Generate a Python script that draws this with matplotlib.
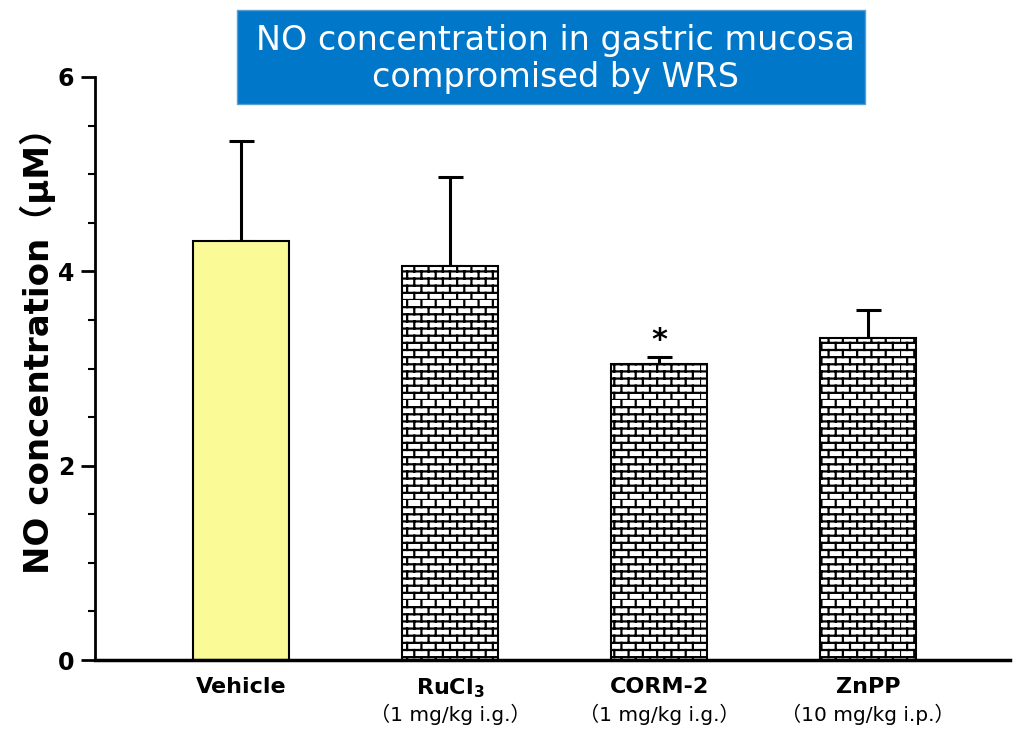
import numpy as np
import matplotlib
matplotlib.use("Agg")
import matplotlib.pyplot as plt
import matplotlib.hatch as mhatch
from matplotlib.patches import Rectangle
from matplotlib.ticker import MultipleLocator

# data
groups = ["Vehicle", r"RuCl$_\mathbf{3}$", "CORM-2", "ZnPP"]
doses = ["", "（1 mg/kg i.g.）", "（1 mg/kg i.g.）", "（10 mg/kg i.p.）"]
means = [4.31, 4.06, 3.05, 3.31]
sem_up = [1.03, 0.91, 0.07, 0.29]
signif = ["", "", "*", ""]
title = "NO concentration in gastric mucosa\ncompromised by WRS"
ylabel = "NO concentration（μM）"

plt.rcParams["font.family"] = ["DejaVu Sans", "Noto Sans CJK SC"]
plt.rcParams["mathtext.fontset"] = "custom"
plt.rcParams["mathtext.rm"] = "DejaVu Sans"
plt.rcParams["mathtext.bf"] = "DejaVu Sans:bold"
plt.rcParams["hatch.linewidth"] = 1.6


# brick wall hatch, 'b' in the hatch string
class BrickHatch(mhatch.HatchPatternBase):
    def __init__(self, hatch, density):
        n = hatch.count("b")
        self.rows = 14 * n
        self.cols = 7 * n
        self.num_vertices = 2 * self.rows + 2 * self.rows * self.cols

    def set_vertices_and_codes(self, vertices, codes):
        k = 0
        for i in range(self.rows):
            y0 = i / self.rows
            y1 = (i + 1) / self.rows
            vertices[k] = (0.0, y0)
            vertices[k + 1] = (1.0, y0)
            k += 2
            off = 0.5 * (i % 2)
            for j in range(self.cols):
                xv = (j + off) / self.cols
                vertices[k] = (xv, y0)
                vertices[k + 1] = (xv, y1)
                k += 2
        codes[0::2] = 1  # MOVETO
        codes[1::2] = 2  # LINETO


mhatch._hatch_types.append(BrickHatch)
mhatch._validate_hatch_pattern = lambda h: None

fig = plt.figure(figsize=(10.24, 7.39), dpi=100)
ax = fig.add_axes([95 / 1024, 1 - 660 / 739, 915 / 1024, 583 / 739])

x = np.arange(len(groups))
for i in x:
    if i == 0:
        ax.bar(x[i], means[i], width=0.46, color="#FAFA96", edgecolor="black",
               linewidth=1.5, zorder=2)
    else:
        ax.bar(x[i], means[i], width=0.46, color="white", edgecolor="black",
               linewidth=1.5, hatch="b", zorder=2)

ax.errorbar(x, means, yerr=[np.zeros(len(x)), sem_up], fmt="none",
            ecolor="black", elinewidth=2.2, capsize=9, capthick=2.2, zorder=1)

for i in x:
    if signif[i]:
        ax.text(x[i], means[i] + sem_up[i] + 0.02, signif[i], ha="center",
                va="bottom", fontsize=22, fontweight="bold")

ax.set_xlim(-0.70, 3.68)
ax.set_ylim(0, 6)
ax.set_xticks(x, labels=groups, fontsize=16, fontweight="bold")
ax.set_yticks([0, 2, 4, 6])
ax.yaxis.set_minor_locator(MultipleLocator(0.5))
ax.tick_params(axis="x", length=0, pad=12)
ax.tick_params(axis="y", which="major", length=10, width=2, labelsize=17, pad=5)
ax.tick_params(axis="y", which="minor", length=5, width=1.5)
for lab in ax.get_yticklabels():
    lab.set_fontweight("bold")

for i in x:
    if doses[i]:
        ax.annotate(doses[i], xy=(x[i], 0), xycoords=("data", "axes fraction"),
                    xytext=(0, -39), textcoords="offset points", ha="center",
                    va="center", fontsize=14.5)

ax.spines["top"].set_visible(False)
ax.spines["right"].set_visible(False)
ax.spines["left"].set_linewidth(2)
ax.spines["bottom"].set_linewidth(2.5)
ax.set_ylabel(ylabel, fontsize=24.5, fontweight="bold")
ax.yaxis.set_label_coords(-0.043, 0.545)

# title box
fig.patches.append(Rectangle((237 / 1024, 1 - 104 / 739), 628 / 1024, 94 / 739,
                             transform=fig.transFigure, facecolor="#0077C8",
                             edgecolor="#5a9fd0", linewidth=1, zorder=0))
fig.text(555 / 1024, 1 - 59 / 739, title, ha="center", va="center",
         color="white", fontsize=24, linespacing=1.15)

fig.savefig("out.png", dpi=100)
